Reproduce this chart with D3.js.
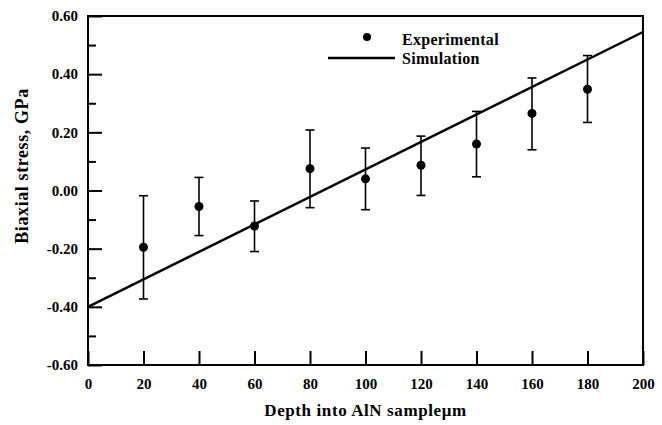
<!DOCTYPE html>
<html>
<head>
<meta charset="utf-8">
<script src="https://cdn.jsdelivr.net/npm/d3@7"></script>
<style>
  html, body { margin: 0; padding: 0; background: #fff; }
  svg { display: block; }
  text { font-family: "Liberation Serif", "Times New Roman", serif; font-weight: bold; fill: #000; }
</style>
</head>
<body>
<script>
// Measured biaxial stress vs depth into the AlN sample
const depth = [20, 40, 60, 80, 100, 120, 140, 160, 180];
const stress = [-0.195, -0.055, -0.122, 0.075, 0.040, 0.087, 0.160, 0.265, 0.348];
const errUpper = [-0.018, 0.045, -0.036, 0.208, 0.146, 0.187, 0.272, 0.387, 0.464];
const errLower = [-0.373, -0.155, -0.210, -0.059, -0.066, -0.017, 0.047, 0.140, 0.234];

// Simulated stress profile (straight line across the sample)
const simDepth = [0, 200];
const simStress = [-0.40, 0.545];

// Axis ticks
const xTicks = [0, 20, 40, 60, 80, 100, 120, 140, 160, 180, 200];
const yTicks = [-0.6, -0.4, -0.2, 0.0, 0.2, 0.4, 0.6];
const yTickLabels = ["-0.60", "-0.40", "-0.20", "0.00", "0.20", "0.40", "0.60"];
const yMinorTicks = [-0.5, -0.3, -0.1, 0.1, 0.3, 0.5];

const W = 662, H = 425;
const m = { left: 88, right: 643, top: 16, bottom: 365 };

const svg = d3.select("body").append("svg").attr("width", W).attr("height", H);

const x = d3.scaleLinear().domain([0, 200]).range([m.left, m.right]);
const y = d3.scaleLinear().domain([-0.6, 0.6]).range([m.bottom, m.top]);

// Plot frame
svg.append("rect")
  .attr("x", m.left).attr("y", m.top)
  .attr("width", m.right - m.left).attr("height", m.bottom - m.top)
  .attr("fill", "none").attr("stroke", "#000").attr("stroke-width", 2);

// Y axis: major ticks with labels, minor ticks without
const yAxis = d3.axisLeft(y).tickValues(yTicks)
  .tickFormat((d, i) => yTickLabels[i]).tickSizeInner(-14).tickSizeOuter(0).tickPadding(10);
const gy = svg.append("g").attr("transform", `translate(${m.left},0)`).call(yAxis);
gy.select(".domain").remove();
gy.selectAll(".tick line").attr("stroke", "#000").attr("stroke-width", 2);
gy.selectAll(".tick text").attr("x", -10).attr("font-size", 15)
  .style("font-family", "Liberation Serif, serif").style("font-weight", "bold");

const yMinor = d3.axisLeft(y).tickValues(yMinorTicks).tickFormat("").tickSizeInner(-8).tickSizeOuter(0);
const gym = svg.append("g").attr("transform", `translate(${m.left},0)`).call(yMinor);
gym.select(".domain").remove();
gym.selectAll(".tick line").attr("stroke", "#000").attr("stroke-width", 2);

// X axis
const xAxis = d3.axisBottom(x).tickValues(xTicks).tickFormat(d3.format("d"))
  .tickSizeInner(-14).tickSizeOuter(0).tickPadding(0);
const gx = svg.append("g").attr("transform", `translate(0,${m.bottom})`).call(xAxis);
gx.select(".domain").remove();
gx.selectAll(".tick line").attr("stroke", "#000").attr("stroke-width", 2);
gx.selectAll(".tick text").attr("y", 24).attr("dy", 0).attr("font-size", 15)
  .style("font-family", "Liberation Serif, serif").style("font-weight", "bold");

// Axis titles
svg.append("text")
  .attr("x", (m.left + m.right) / 2).attr("y", 416)
  .attr("text-anchor", "middle").attr("font-size", 17).attr("letter-spacing", 0.6)
  .text("Depth into AlN sample\u03bcm");

svg.append("text")
  .attr("transform", `translate(28,166) rotate(-90)`)
  .attr("text-anchor", "middle").attr("font-size", 18).attr("letter-spacing", 0.6)
  .text("Biaxial stress, GPa");

// Simulation line
const line = d3.line().x(d => x(d[0])).y(d => y(d[1]));
svg.append("path")
  .datum(d3.zip(simDepth, simStress))
  .attr("d", line)
  .attr("fill", "none").attr("stroke", "#000").attr("stroke-width", 2.5);

// Error bars
const pts = depth.map((d, i) => ({ d, v: stress[i], hi: errUpper[i], lo: errLower[i] }));
const eb = svg.append("g").attr("stroke", "#000").attr("stroke-width", 1.6);
eb.selectAll(".stem").data(pts).join("line")
  .attr("x1", p => x(p.d)).attr("x2", p => x(p.d))
  .attr("y1", p => y(p.hi)).attr("y2", p => y(p.lo));
eb.selectAll(".capHi").data(pts).join("line")
  .attr("x1", p => x(p.d) - 4.5).attr("x2", p => x(p.d) + 4.5)
  .attr("y1", p => y(p.hi)).attr("y2", p => y(p.hi));
eb.selectAll(".capLo").data(pts).join("line")
  .attr("x1", p => x(p.d) - 4.5).attr("x2", p => x(p.d) + 4.5)
  .attr("y1", p => y(p.lo)).attr("y2", p => y(p.lo));

// Experimental points
svg.append("g").selectAll("circle").data(pts).join("circle")
  .attr("cx", p => x(p.d)).attr("cy", p => y(p.v)).attr("r", 4.5).attr("fill", "#000");

// Legend
const lg = svg.append("g");
lg.append("circle").attr("cx", 367).attr("cy", 37).attr("r", 4).attr("fill", "#000");
lg.append("text").attr("x", 402).attr("y", 45).attr("font-size", 16).attr("letter-spacing", 0.3).text("Experimental");
lg.append("line").attr("x1", 328).attr("x2", 395).attr("y1", 58).attr("y2", 58)
  .attr("stroke", "#000").attr("stroke-width", 2.5);
lg.append("text").attr("x", 402).attr("y", 64).attr("font-size", 16).attr("letter-spacing", 0.3).text("Simulation");
</script>
</body>
</html>
